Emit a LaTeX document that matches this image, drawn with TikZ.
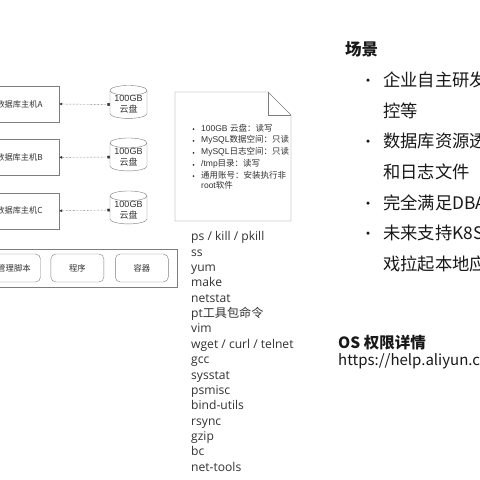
\documentclass[tikz,border=0pt]{standalone}
\usepackage{fontspec}
\setmainfont{Liberation Sans}
\newfontfamily\cjk{Noto Sans CJK SC}
\newfontfamily\listfont{Open Sans}
\usetikzlibrary{arrows.meta,calc,positioning,shapes.geometric}
\definecolor{BoxGray}{RGB}{125,125,125}
\definecolor{DiagText}{RGB}{50,50,50}
\definecolor{SlideText}{RGB}{25,25,25}
\tikzset{
  hostbox/.style={draw=BoxGray,minimum width=79pt,minimum height=36pt,inner sep=0pt,text=DiagText,font=\fontsize{8.2}{10}\selectfont\cjk},
  diskbox/.style={draw=BoxGray,cylinder,shape border rotate=90,aspect=0.35,minimum width=37pt,minimum height=26pt,inner sep=0pt,align=center,text=DiagText,font=\fontsize{9}{10}\selectfont},
  toolbox/.style={draw=BoxGray,rounded corners=5pt,minimum width=53pt,minimum height=28pt,inner sep=0pt,text=DiagText,font=\fontsize{8.3}{10}\selectfont\cjk},
  linktip/.style={{Latex[length=3pt,width=3pt]}-{Square[length=2.5pt,width=2.5pt]},densely dotted,draw=DiagText},
  permline/.style={anchor=west,inner sep=0pt,text=DiagText,font=\fontsize{8.5}{10}\selectfont},
  permdot/.style={circle,fill=DiagText,inner sep=0pt,minimum size=2pt},
  slideline/.style={anchor=west,inner sep=0pt,text=SlideText,font=\fontsize{17.3}{20}\selectfont\cjk},
  slidedot/.style={circle,fill=SlideText,inner sep=0pt,minimum size=3.5pt}
}
\begin{document}
\begin{tikzpicture}[>=Latex,x=1pt,y=-1pt,node distance=17pt]
\useasboundingbox (0,0) rectangle (480,480);
\fill[white] (0,0) rectangle (480,480);
% hosts and disks
\node[hostbox] (hosta) at (19.5,104) {数据库主机A};
\node[hostbox,below=17pt of hosta] (hostb) {数据库主机B};
\node[hostbox,below=17pt of hostb] (hostc) {数据库主机C};
\node[diskbox] (diska) at (128.5,104.5) {100GB\\[1pt]{\cjk 云盘}};
\node[diskbox] (diskb) at (128.5,157) {100GB\\[1pt]{\cjk 云盘}};
\node[diskbox] (diskc) at (128.5,210) {100GB\\[1pt]{\cjk 云盘}};
\draw[linktip] (hosta.east)--(diska.west);
\draw[linktip] (hostb.east)--(diskb.west);
\draw[linktip] (hostc.east)--(diskc.west);
% bottom row
\node[draw=BoxGray,minimum width=198pt,minimum height=38pt,inner sep=0pt] (row) at (78,268) {};
\node[toolbox] (script) at (14,268) {管理脚本};
\node[toolbox,right=10pt of script] (prog) {程序};
\node[toolbox,right=11pt of prog] (cont) {容器};
% permission sheet
\coordinate (sheet) at (175,92);
\draw[BoxGray,fill=white] (sheet)--++(93,0)--++(23,23)--(291,221)--(175,221)--cycle;
\draw[BoxGray] (268,92)--(268,115)--(291,115);
\node[permline] (pa) at (201,128) {100GB {\cjk 云盘：读写}};
\node[permline,below=3.1pt of pa.south west,anchor=north west] (pb) {MySQL{\cjk 数据空间：只读}};
\node[permline,below=2.6pt of pb.south west,anchor=north west] (pc) {MySQL{\cjk 日志空间：只读}};
\node[permline,below=2.6pt of pc.south west,anchor=north west] (pd) {/tmp{\cjk 目录：读写}};
\node[permline,below=2.6pt of pd.south west,anchor=north west] (pe) {{\cjk 通用账号：安装执行非}};
\node[permline,below=1.9pt of pe.south west,anchor=north west] (pf) {root{\cjk 软件}};
\foreach \p in {pa,pb,pc,pd,pe}
  \node[permdot] (dot\p) at ($(\p.west)+(-7.5,1)$) {};
% command list
\node[anchor=north west,inner sep=0pt,align=left,text=DiagText,font=\fontsize{12.1}{15.35}\selectfont\listfont] (cmds) at (191,231.5) {ps / kill / pkill\\ss\\yum\\make\\netstat\\pt{\cjk 工具包命令}\\vim\\wget / curl / telnet\\gcc\\sysstat\\psmisc\\bind-utils\\rsync\\gzip\\bc\\net-tools};
% right side of the slide
\node[anchor=west,inner sep=0pt,text=SlideText,font=\fontsize{16.5}{20}\selectfont\cjk\bfseries] (scene) at (345,49) {场景};
\node[slideline] (la) at (383,80) {企业自主研发};
\node[slideline] (lb) at (383,110.5) {控等};
\node[slideline] (lc) at (383,141) {数据库资源透};
\node[slideline] (ld) at (383,172) {和日志文件};
\node[slideline] (le) at (383,203) {完全满足DBA};
\node[slideline] (lf) at (383,233) {未来支持K8S};
\node[slideline] (lg) at (383,264) {戏拉起本地应};
\foreach \l in {la,lc,le,lf}
  \node[slidedot] (dot\l) at ($(\l.west)+(-15,0)$) {};
\node[anchor=west,inner sep=0pt,text=SlideText,font=\fontsize{15.5}{18}\selectfont\cjk\bfseries] (ostitle) at (338,343) {OS 权限详情};
\node[anchor=west,inner sep=0pt,text=SlideText,font=\fontsize{15}{18}\selectfont\cjk] (osurl) at (338,361) {https://help.aliyun.c};
\end{tikzpicture}
\end{document}
